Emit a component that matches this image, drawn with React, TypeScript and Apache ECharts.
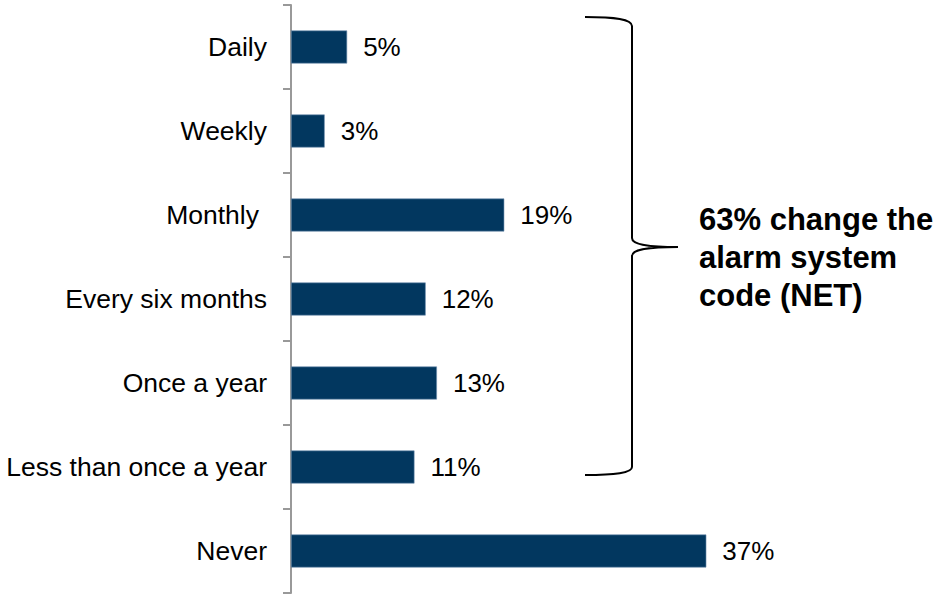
import React, { useEffect, useRef } from "react";
import * as echarts from "echarts";

const categories = ["Daily", "Weekly", "Monthly", "Every six months", "Once a year", "Less than once a year", "Never"];
const values = [5, 3, 19, 12, 13, 11, 37];
const noteLines = ["63% change the", "alarm system", "code (NET)"];

const FONT = "'Liberation Sans', Arial, sans-serif";
const BRACKET =
  "M585,17 C615,17 632,19 632,26 L632,238 C632,244 645,247 678,247 C645,247 632,250 632,256 L632,467 C632,473 615,475 585,475";

let registered = false;

export default function App() {
  const ref = useRef<HTMLDivElement>(null);
  useEffect(() => {
    if (!registered) {
      echarts.graphic.registerShape("bracket", echarts.graphic.extendPath(BRACKET, {}) as any);
      registered = true;
    }
    const chart = echarts.init(ref.current!, null, { renderer: "svg" });
    chart.setOption({
      animation: false,
      backgroundColor: "#ffffff",
      grid: { left: 291, top: 5, width: 449, height: 588, containLabel: false },
      xAxis: {
        type: "value",
        min: 0,
        max: 40,
        show: false,
      },
      yAxis: {
        type: "category",
        data: categories,
        inverse: true,
        axisLine: { show: true, lineStyle: { color: "#999999", width: 2 } },
        axisTick: { show: true, length: 8, lineStyle: { color: "#999999", width: 2 } },
        axisLabel: {
          color: "#000000",
          fontSize: 26.5,
          fontFamily: FONT,
          margin: 24,
          formatter: (v: string) => (v === "Monthly" ? "{m|" + v + "}" : v),
          rich: {
            m: { color: "#000000", fontSize: 26.5, fontFamily: FONT, padding: [0, 8, 0, 0] },
          },
        },
        splitLine: { show: false },
      },
      series: [
        {
          type: "bar",
          data: values,
          barWidth: 33,
          itemStyle: { color: "#02375f", borderColor: "#6f8fae", borderWidth: 0.6 },
          label: {
            show: true,
            position: "right",
            distance: 16,
            formatter: "{c}%",
            color: "#000000",
            fontSize: 26,
            fontFamily: FONT,
          },
        },
      ],
      graphic: [
        {
          type: "bracket",
          x: 0,
          y: 0,
          style: { stroke: "#000000", lineWidth: 2, fill: null },
          silent: true,
        },
        {
          type: "text",
          x: 699,
          y: 200,
          style: {
            text: noteLines.join("\n"),
            font: `bold 31px ${FONT}`,
            lineHeight: 38,
            fill: "#000000",
          },
        },
      ],
    });
    return () => chart.dispose();
  }, []);
  return (
    <div
      ref={ref}
      style={{ position: "fixed", left: 0, top: 0, width: 942, height: 594 }}
    />
  );
}
